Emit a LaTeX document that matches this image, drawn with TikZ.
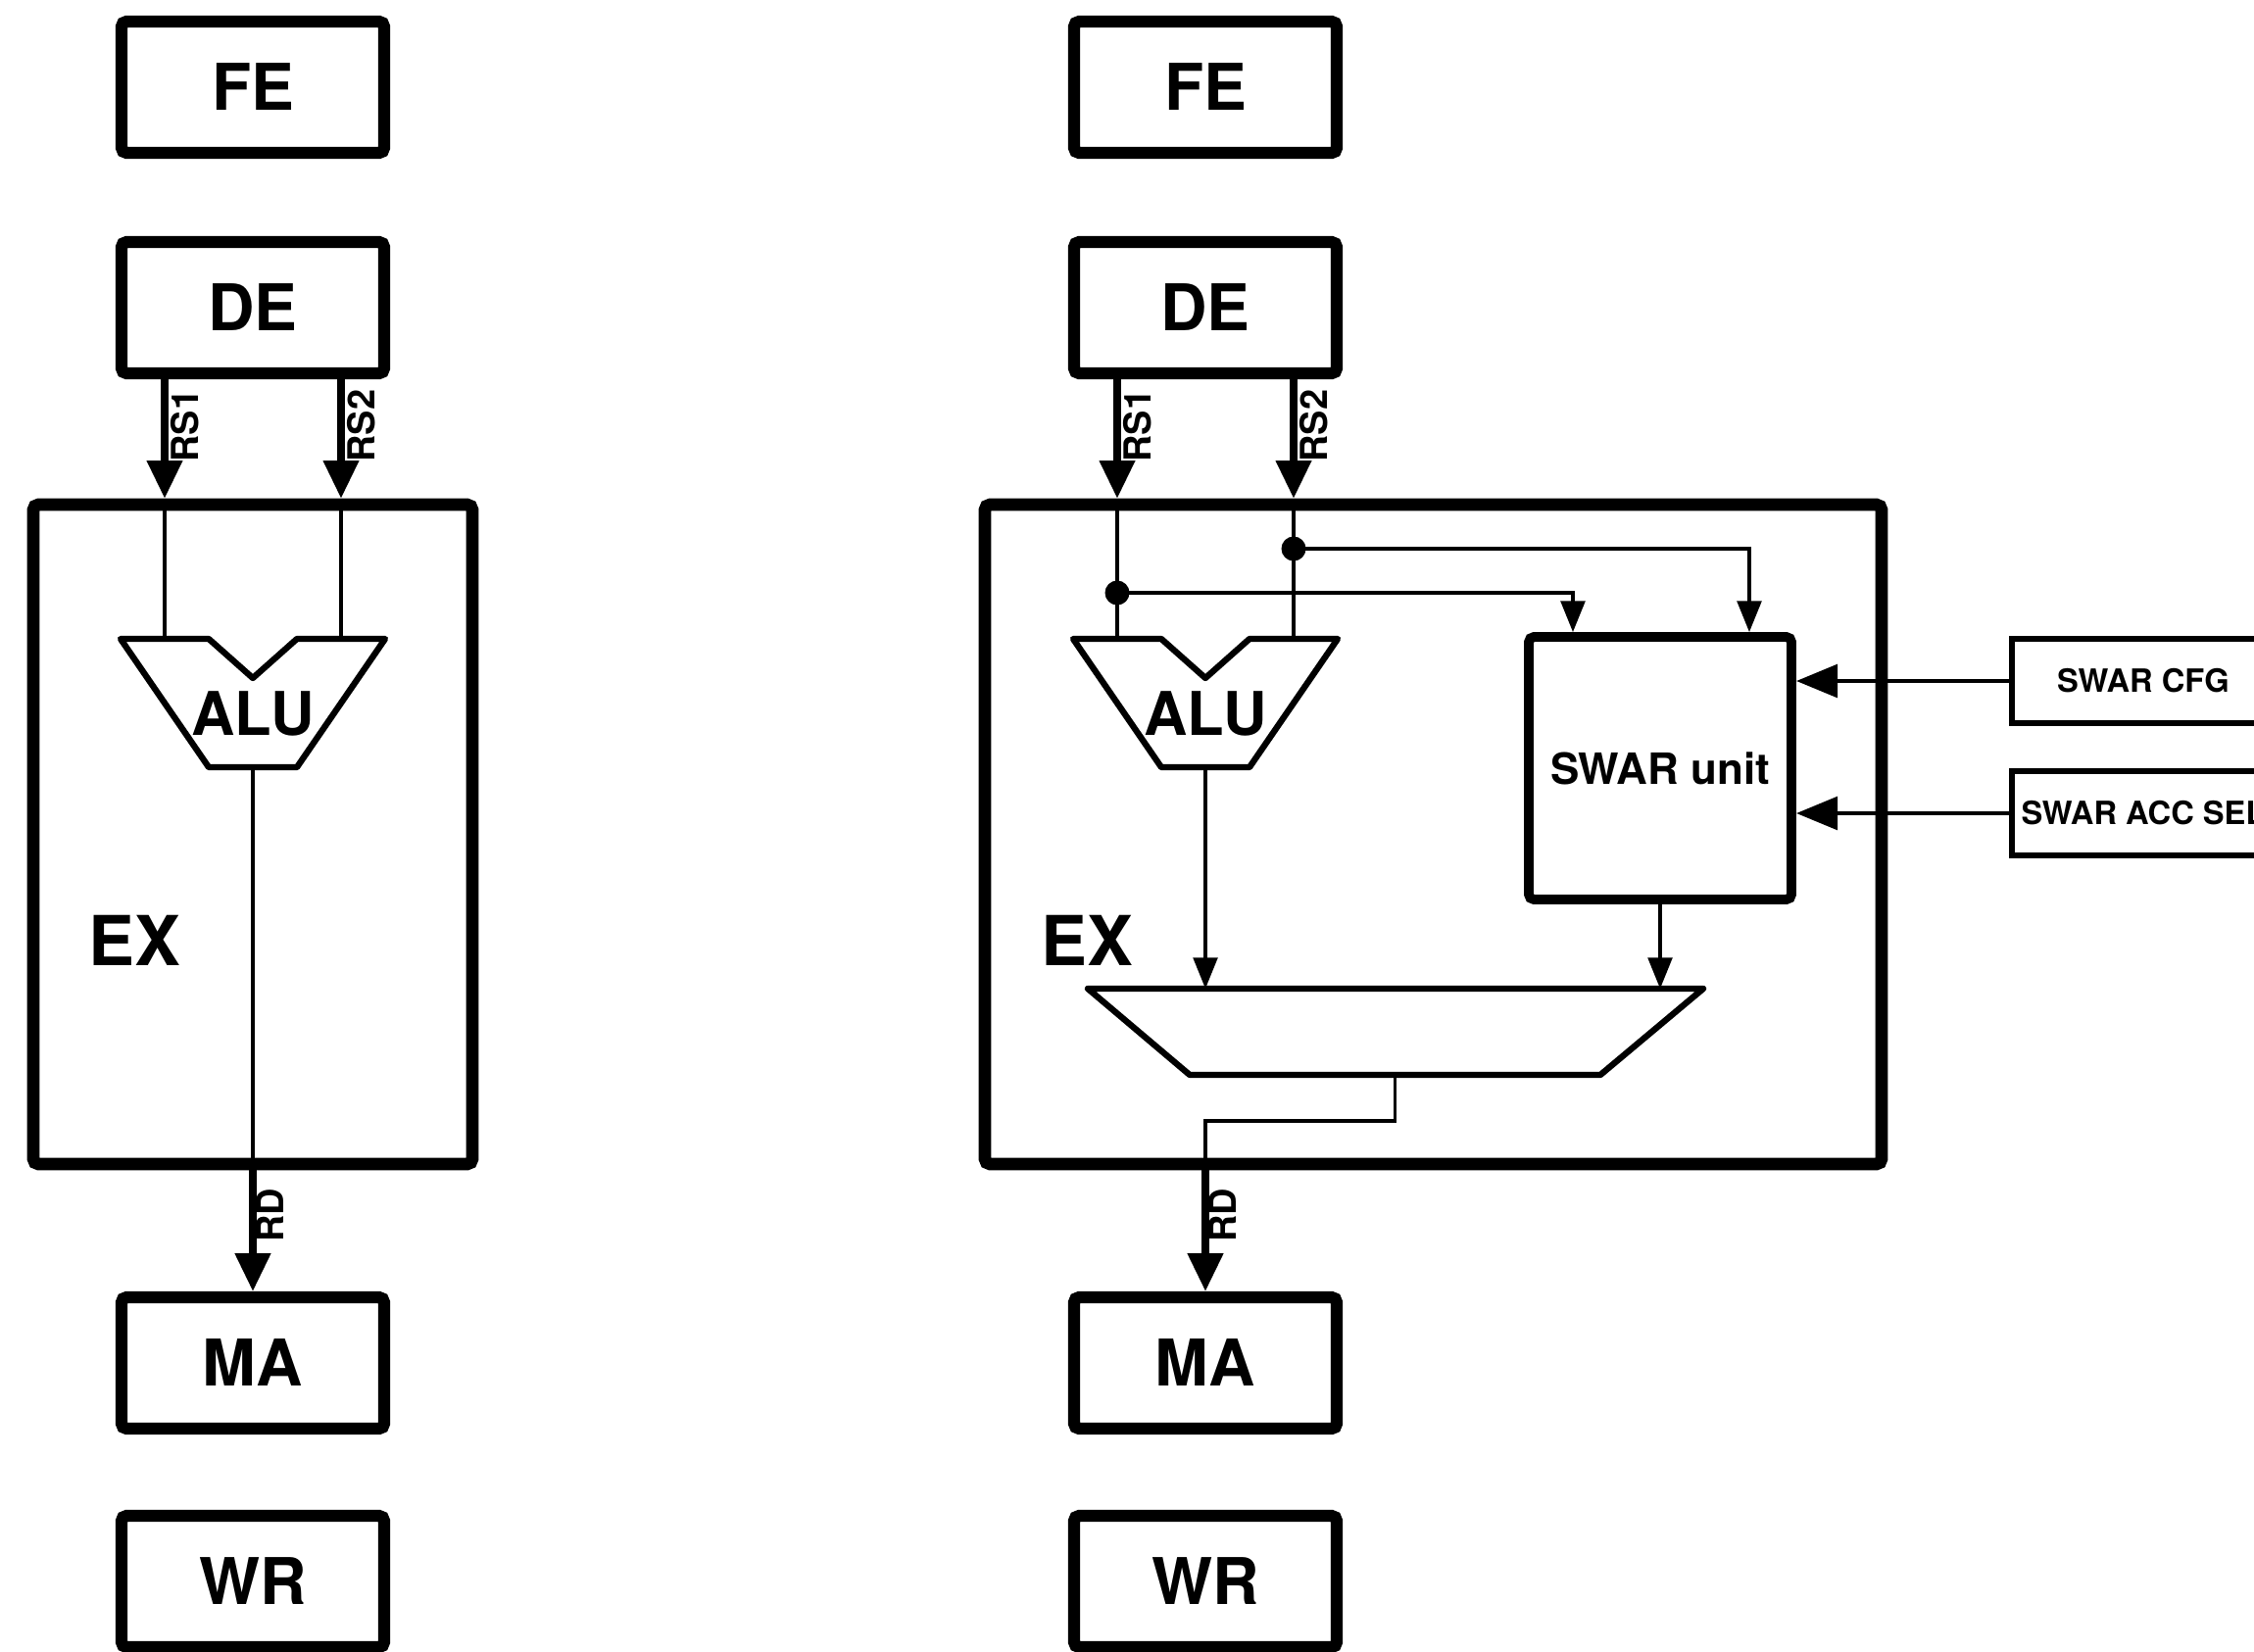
\documentclass[tikz,border=0pt]{standalone}
\usepackage{fontspec}
\setmainfont{TeX Gyre Heros}
\usepackage{tikz}
\usetikzlibrary{arrows.meta,positioning,calc}

\begin{document}
\begin{tikzpicture}[every node/.style={font=\bfseries},
  stage/.style={draw,line width=3.5pt,rounded corners=1.5pt,minimum width=2.68cm,minimum height=1.34cm,font=\fontsize{18.7}{20}\bfseries},
  exbox/.style={draw,line width=3.6pt,rounded corners=1.5pt,minimum height=6.73cm},
  bus/.style={line width=2pt,-{Triangle[length=11pt,width=10pt]}},
  wire/.style={line width=1pt},
  tap/.style={line width=1pt,-{Triangle[length=9pt,width=7pt]}},
  ctl/.style={line width=1.4pt,-{Triangle[length=12pt,width=9.5pt]}},
  buslabel/.style={rotate=90,font=\fontsize{10.8}{12}\bfseries,inner sep=0pt},
  ctlbox/.style={draw,line width=1.8pt,minimum width=2.68cm,minimum height=0.86cm,inner sep=0pt,font=\fontsize{9.3}{11}\bfseries},
  unit/.style={line width=1.8pt,line join=round}]
\useasboundingbox (0,0) rectangle (23,-16.85);
\foreach \c/\x in {l/2.58,r/12.30}{
  \node[stage] (fe-\c) at (\x,-0.89) {FE};
  \node[stage] (de-\c) at (\x,-3.14) {DE};
  \node[stage] (ma-\c) at (\x,-13.91) {MA};
  \node[stage] (wr-\c) at (\x,-16.14) {WR};
}
\node[exbox,minimum width=4.48cm] (ex-l) at (2.58,-8.515) {};
\node[exbox,minimum width=9.15cm] (ex-r) at (14.625,-8.515) {};
\foreach \c/\x in {l/2.58,r/12.30}{
  \draw[unit] (\x-1.35,-6.52) -- (\x-0.45,-6.52) -- (\x,-6.92) -- (\x+0.45,-6.52) -- (\x+1.35,-6.52) -- (\x+0.45,-7.83) -- (\x-0.45,-7.83) -- cycle;
  \node[font=\fontsize{17.5}{19}\bfseries] (alu-\c) at (\x,-7.28) {ALU};
  \coordinate (alu-\c-a) at (\x-0.9,-6.52);
  \coordinate (alu-\c-b) at (\x+0.9,-6.52);
  \coordinate (alu-\c-o) at (\x,-7.83);
  \node[font=\fontsize{20}{22}\bfseries] (exname-\c) at (\x-1.21,-9.60) {EX};
  \draw[bus] ([xshift=-0.9cm]de-\c.south) -- node[pos=0.39,xshift=0.21cm,buslabel] (rs1-\c) {RS1} ([xshift=-0.9cm]de-\c.south |- ex-\c.north);
  \draw[bus] ([xshift=0.9cm]de-\c.south) -- node[pos=0.39,xshift=0.21cm,buslabel] (rs2-\c) {RS2} ([xshift=0.9cm]de-\c.south |- ex-\c.north);
  \draw[wire] (alu-\c-a |- ex-\c.north) -- (alu-\c-a);
  \draw[wire] (alu-\c-b |- ex-\c.north) -- (alu-\c-b);
  \draw[bus] (alu-\c-o |- ex-\c.south) -- node[pos=0.37,xshift=0.18cm,buslabel] (rd-\c) {RD} (ma-\c.north);
}
\draw[wire] (alu-l-o) -- (alu-l-o |- ex-l.south);
\node[draw,line width=2.8pt,rounded corners=1.5pt,minimum size=2.68cm,font=\fontsize{12.5}{14}\bfseries] (swar) at (16.94,-7.84) {SWAR unit};
\node[ctlbox] (cfg) at (21.87,-6.95) {SWAR CFG};
\node[ctlbox] (accsel) at (21.87,-8.30) {SWAR ACC SEL};
\draw[ctl] (cfg.west) -- (cfg.west -| swar.east);
\draw[ctl] (accsel.west) -- (accsel.west -| swar.east);
\coordinate (j1) at (11.40,-6.05);
\coordinate (j2) at (13.20,-5.60);
\fill (j1) circle (0.125);
\fill (j2) circle (0.125);
\draw[tap] (j1) -| ([xshift=-0.89cm]swar.north);
\draw[tap] (j2) -| ([xshift=0.91cm]swar.north);
\draw[unit] (11.10,-10.09) -- (17.38,-10.09) -- (16.33,-10.97) -- (12.14,-10.97) -- cycle;
\coordinate (mux-a) at (12.30,-10.09);
\coordinate (mux-o) at (14.235,-10.97);
\draw[tap] (alu-r-o) -- (mux-a);
\draw[tap] (swar.south) -- (swar.south |- mux-a);
\draw[wire] (mux-o) -- ++(0,-0.47) -| (alu-r-o |- ex-r.south);
\end{tikzpicture}
\end{document}
